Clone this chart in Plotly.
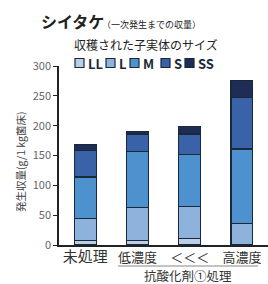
import plotly.graph_objects as go

categories = ["未処理", "低濃度", "＜＜＜", "高濃度"]
sizes = ["LL", "L", "M", "S", "SS"]
ll = [8, 8, 11, 0]
l = [37, 55, 54, 36]
m = [69, 94, 87, 125]
s = [45, 29, 34, 86]
ss = [9, 4, 13, 29]
yticks = [0, 50, 100, 150, 200, 250, 300]

colors = ["#b8cfe7", "#8db3dc", "#4d91cf", "#3a62a8", "#1e2d55"]
series = [ll, l, m, s, ss]
FONT = "Noto Sans CJK JP"

fig = go.Figure()
for name, vals, c in zip(sizes, series, colors):
    fig.add_trace(go.Bar(x=categories, y=vals, name=name,
                         marker=dict(color=c, line=dict(color="#1b2838", width=1.2)),
                         showlegend=False))

ticktext = ["<span style='font-size:15px'>未処理</span>"] + categories[1:]

fig.update_layout(
    barmode="stack", bargap=0.58,
    width=268, height=284,
    margin=dict(l=59, r=0, t=66, b=39),
    plot_bgcolor="white", paper_bgcolor="white",
    font=dict(family=FONT, color="#333"),
    xaxis=dict(tickvals=categories, ticktext=ticktext, showline=True, linecolor="#222", linewidth=1.5,
               ticks="", tickfont=dict(size=13, color="#333"), showgrid=False, range=[-0.5, 3.5]),
    yaxis=dict(range=[0, 300], tickvals=yticks, showline=True, linecolor="#222", linewidth=1.5,
               ticks="outside", ticklen=4, tickcolor="#222", tickfont=dict(size=11, color="#666"),
               showgrid=False, zeroline=False),
)


def px(xp):
    return (xp - 59) / 209


def py(yp):
    return (245 - yp) / 179


ann = [
    dict(text="<b>シイタケ</b>", x=px(39), y=py(21), xanchor="left", yanchor="middle",
         font=dict(size=16, color="#222", family=FONT)),
    dict(text="（一次発生までの収量）", x=px(100), y=py(25), xanchor="left", yanchor="middle",
         font=dict(size=9, color="#222", family=FONT)),
    dict(text="収穫された子実体のサイズ", x=px(72), y=py(44), xanchor="left", yanchor="middle",
         font=dict(size=12, color="#222", family=FONT)),
    dict(text="発生収量(g/1 kg菌床)", x=px(20), y=py(162), xanchor="center", yanchor="middle", textangle=-90,
         font=dict(size=10.5, color="#444", family=FONT)),
    dict(text="抗酸化剤①処理", x=px(188), y=py(275.5), xanchor="center", yanchor="middle",
         font=dict(size=12.5, color="#333", family=FONT)),
]
shapes = []
leg_x = [75, 106, 130, 161, 185]
for name, c, lx in zip(sizes, colors, leg_x):
    shapes.append(dict(type="rect", xref="paper", yref="paper", x0=px(lx), x1=px(lx + 9), y0=py(67.5), y1=py(58.5),
                       fillcolor=c, line=dict(color="#1b2838", width=1.2)))
    ann.append(dict(text="<b>%s</b>" % name, x=px(lx + 11), y=py(63), xanchor="left", yanchor="middle",
                    font=dict(size=13, color="#1b2838", family=FONT)))
shapes.append(dict(type="line", xref="paper", yref="paper", x0=px(118), x1=px(258), y0=py(266), y1=py(266),
                   line=dict(color="#888", width=1.2)))
for a in ann:
    a.update(xref="paper", yref="paper", showarrow=False)
fig.update_layout(annotations=ann, shapes=shapes)

fig.write_html("out.html", config={"displayModeBar": False},
               post_script="document.body.style.margin='0';document.body.style.overflow='hidden';")
